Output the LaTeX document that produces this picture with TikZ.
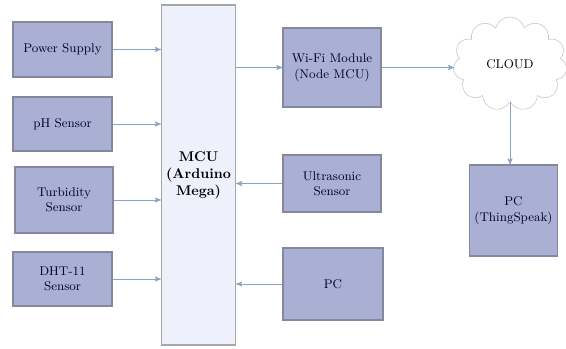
\documentclass[tikz,border=0pt]{standalone}
\usepackage{xcolor}
\usetikzlibrary{arrows}
\usetikzlibrary{positioning,shapes.symbols}

\definecolor{boxfill}{HTML}{AAB0D4}
\definecolor{boxline}{HTML}{85889C}
\definecolor{mcufill}{HTML}{EEF1FC}
\definecolor{linkcol}{HTML}{8CA2C2}

\begin{document}
\begin{tikzpicture}[node distance=0cm,>=stealth',
block/.style={rectangle,draw=boxline,line width=0.8pt,fill=boxfill,align=center,
font=\small,text=black!85!blue},
link/.style={->,linkcol,line width=0.6pt}]
\useasboundingbox (0,0) rectangle (14.15,-8.725);

% sensors on the left
\node (power) [block,xshift=1.5625cm,yshift=-1.2375cm,minimum width=24.75mm,
minimum height=13.75mm] {Power Supply};
\node (ph) [block,xshift=1.5625cm,yshift=-3.1cm,minimum width=24.75mm,
minimum height=13.5mm] {pH Sensor};
\node (turb) [block,xshift=1.6cm,yshift=-5cm,minimum width=24.5mm,
minimum height=16.5mm] {Turbidity\\Sensor};
\node (dht) [block,xshift=1.5625cm,yshift=-6.975cm,minimum width=24.75mm,
minimum height=13.5mm] {DHT-11\\Sensor};

% controller
\node (mcu) [rectangle,draw=gray!70,line width=0.8pt,fill=mcufill,align=center,
xshift=4.9625cm,yshift=-4.375cm,minimum width=16.75mm,minimum height=85mm,
font=\bfseries] {MCU\\(Arduino\\Mega)};

% right column
\node (wifi) [block,xshift=8.3cm,yshift=-1.6875cm,minimum width=24.5mm,
minimum height=19.75mm] {Wi-Fi Module\\(Node MCU)};
\node (ultra) [block,xshift=8.3cm,yshift=-4.5875cm,minimum width=24.5mm,
minimum height=14.25mm] {Ultrasonic\\Sensor};
\node (pc) [block,xshift=8.325cm,yshift=-7.1cm,minimum width=25mm,
minimum height=18mm] {PC};

\node (cloud) [cloud,cloud puffs=11,aspect=1.2,draw=gray!45,fill=white,
xshift=12.75cm,yshift=-1.6cm,minimum width=28.5mm,minimum height=23.5mm,
font=\small] {CLOUD};
\node (thing) [block,xshift=12.8375cm,yshift=-5.2625cm,minimum width=21.75mm,
minimum height=22.75mm] {PC\\(ThingSpeak)};

% connections
\draw[link] (power.east) -- (power.east -| mcu.west);
\draw[link] (ph.east) -- (ph.east -| mcu.west);
\draw[link] (turb.east) -- (turb.east -| mcu.west);
\draw[link] (dht.east) -- (dht.east -| mcu.west);
\draw[link] (mcu.east |- wifi.west) -- (wifi.west);
\draw[link] (ultra.west) -- (ultra.west -| mcu.east);
\draw[link] (pc.west) -- (pc.west -| mcu.east);
\draw[link] (wifi.east) -- (wifi.east -| cloud.west);
\draw[link] (cloud.south) -- (thing.north -| cloud.south);

\end{tikzpicture}
\end{document}
